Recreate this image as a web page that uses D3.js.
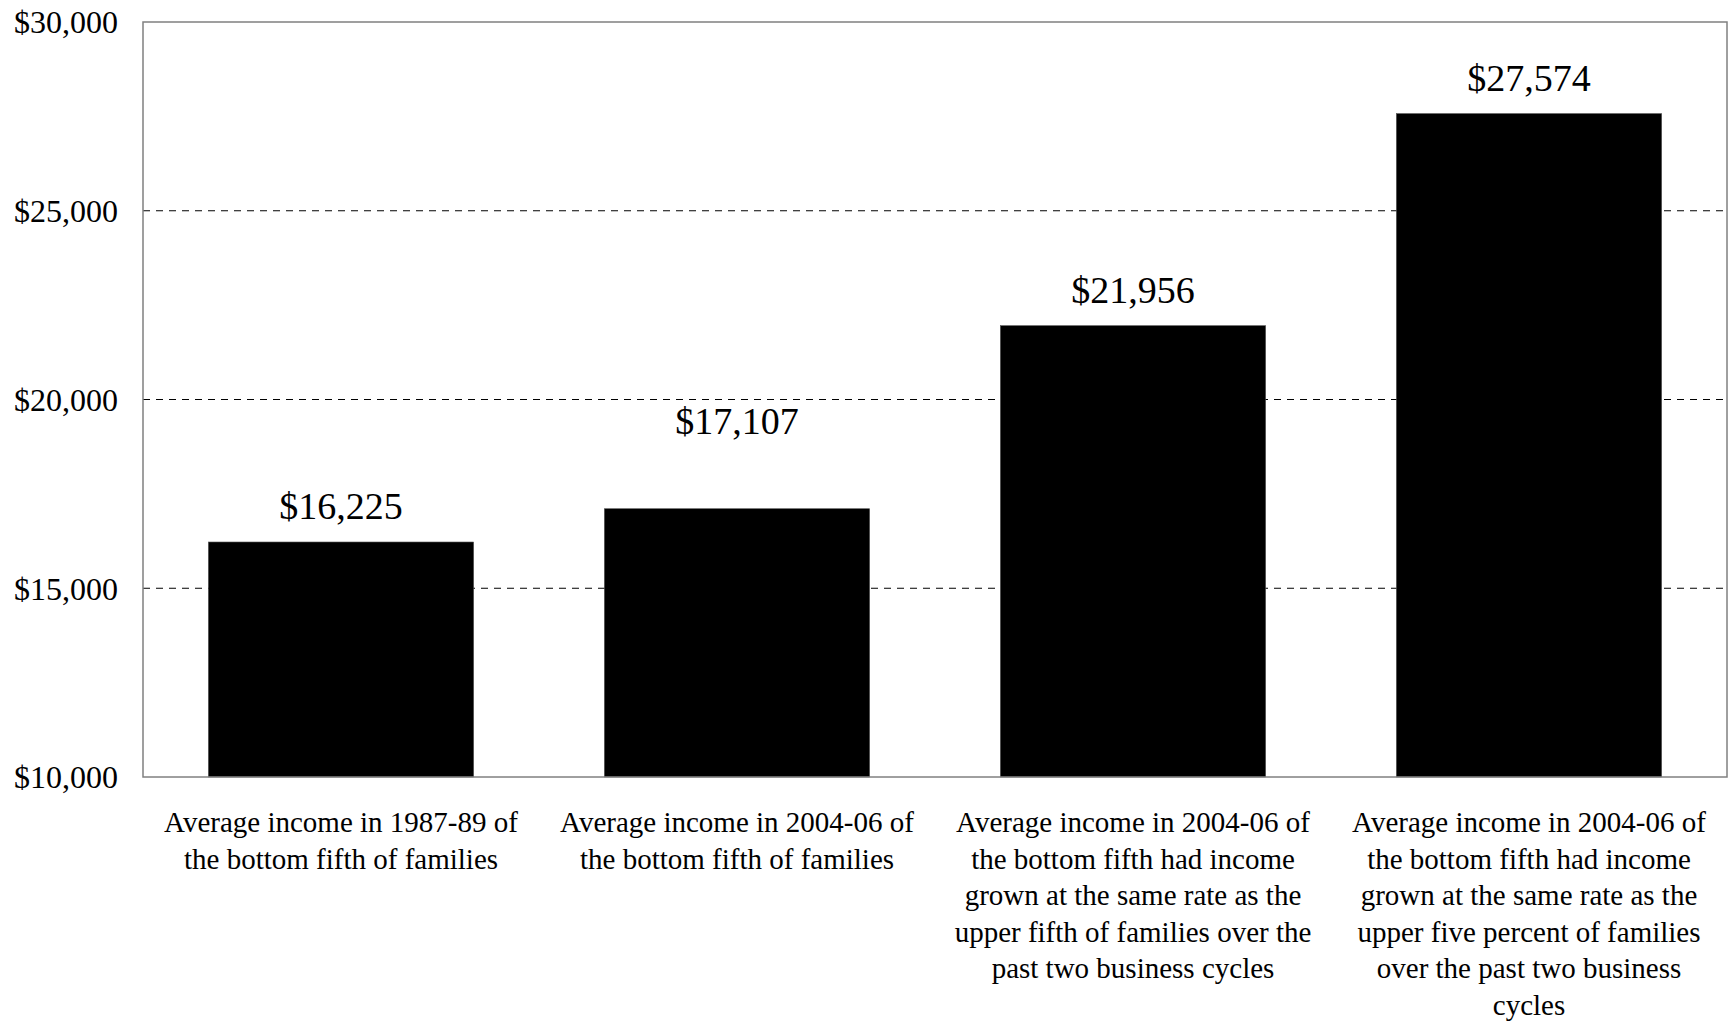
<!DOCTYPE html>
<html>
<head>
<meta charset="utf-8">
<script src="https://cdnjs.cloudflare.com/ajax/libs/d3/7.8.5/d3.min.js"></script>
<style>
  body { margin: 0; background: #ffffff; }
  svg { display: block; font-family: "Liberation Serif", "Times New Roman", serif; }
</style>
</head>
<body>
<svg id="chart" width="1729" height="1021"></svg>
<script>

// category labels, already broken into lines as in the picture
var categories = [
    ["Average income in 1987-89 of", "the bottom fifth of families"],
    ["Average income in 2004-06 of", "the bottom fifth of families"],
    ["Average income in 2004-06 of", "the bottom fifth had income", "grown at the same rate as the",
     "upper fifth of families over the", "past two business cycles"],
    ["Average income in 2004-06 of", "the bottom fifth had income", "grown at the same rate as the",
     "upper five percent of families", "over the past two business", "cycles"]
]

var incomes = [16225, 17107, 21956, 27574]

var yTicks = [10000, 15000, 20000, 25000, 30000]

// how far each value label sits above its bar (the second one is lifted in the original)
var labelGap = [23, 75, 23, 23]

var margin = { top: 22, right: 2, bottom: 244, left: 143 }
var W = 1729, H = 1021

var main = function()
{
    var svg = d3.select("#chart")
    var g = svg.append("g").attr("transform", "translate(" + margin.left + "," + margin.top + ")")

    var w = W - margin.left - margin.right
    var h = H - margin.top - margin.bottom

    var x = d3.scaleBand()
        .domain(d3.range(incomes.length))
        .range([0, w])
        .paddingInner(0.33)
        .paddingOuter(0.165)

    var y = d3.scaleLinear()
        .domain([10000, 30000])
        .range([h, 0])

    var fmt = d3.format("$,")

    // dashed grid lines, inner ticks only
    g.selectAll("line.grid")
        .data(yTicks.slice(1, -1))
        .enter()
        .append("line").attr("class", "grid")
        .attr("x1", 0).attr("x2", w)
        .attr("y1", function(d){ return y(d) })
        .attr("y2", function(d){ return y(d) })
        .attr("stroke", "#000")
        .attr("stroke-width", 1)
        .attr("stroke-dasharray", "7,6")

    // bars
    g.selectAll("rect.bar")
        .data(incomes)
        .enter()
        .append("rect").attr("class", "bar")
        .attr("x", function(d, i){ return x(i) })
        .attr("width", x.bandwidth())
        .attr("y", function(d){ return y(d) })
        .attr("height", function(d){ return h - y(d) })
        .attr("fill", "#000")
        .attr("stroke", "#555")
        .attr("stroke-width", 0.6)

    // value labels
    g.selectAll("text.value")
        .data(incomes)
        .enter()
        .append("text").attr("class", "value")
        .attr("x", function(d, i){ return x(i) + x.bandwidth() / 2 })
        .attr("y", function(d, i){ return y(d) - labelGap[i] })
        .attr("text-anchor", "middle")
        .attr("font-size", "38px")
        .attr("fill", "#000")
        .text(function(d){ return fmt(d) })

    // plot frame
    g.append("rect")
        .attr("x", 0).attr("y", 0)
        .attr("width", w).attr("height", h)
        .attr("fill", "none")
        .attr("stroke", "#808080")
        .attr("stroke-width", 1.5)

    // y axis labels
    var yAxis = d3.axisLeft(y)
        .tickValues(yTicks)
        .tickFormat(fmt)
        .tickSize(0)
        .tickPadding(25)

    var ya = g.append("g").call(yAxis)
    ya.select(".domain").remove()
    ya.selectAll("text")
        .attr("font-size", "32px")
        .attr("font-family", "Liberation Serif, Times New Roman, serif")
        .attr("fill", "#000")
        .attr("dy", "0.34em")

    // category labels, multi-line
    var cats = g.selectAll("text.cat")
        .data(categories)
        .enter()
        .append("text").attr("class", "cat")
        .attr("text-anchor", "middle")
        .attr("font-size", "29px")
        .attr("fill", "#000")
        .attr("transform", function(d, i){
            return "translate(" + (x(i) + x.bandwidth() / 2) + "," + (h + 55) + ")"
        })

    cats.selectAll("tspan")
        .data(function(d){ return d })
        .enter()
        .append("tspan")
        .attr("x", 0)
        .attr("y", function(d, i){ return i * 36.6 })
        .text(function(d){ return d })
}

main();

</script>
</body>
</html>
